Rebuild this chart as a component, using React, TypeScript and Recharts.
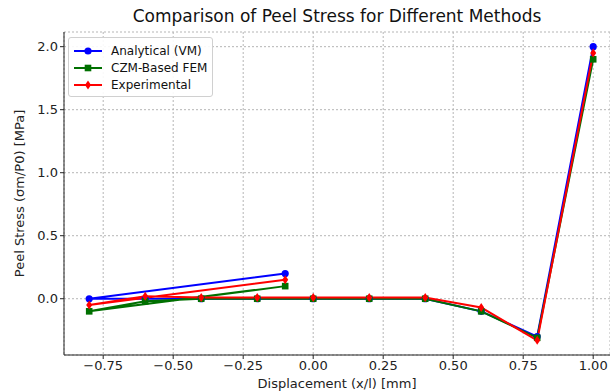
import { LineChart, Line, XAxis, YAxis, CartesianGrid } from 'recharts';

// point order follows the original series (the first point sits at -0.1)
const displacement = [-0.1, -0.8, -0.6, -0.4, -0.2, 0.0, 0.2, 0.4, 0.6, 0.8, 1.0];
const analytical = [0.2, 0.0, 0.0, 0.0, 0.0, 0.0, 0.0, 0.0, -0.1, -0.3, 2.0];
const czmFem = [0.1, -0.1, -0.02, 0.0, 0.0, 0.0, 0.0, 0.0, -0.1, -0.31, 1.9];
const experimental = [0.15, -0.05, 0.02, 0.01, 0.01, 0.01, 0.01, 0.01, -0.07, -0.33, 1.95];

const xTicks = [-0.75, -0.5, -0.25, 0, 0.25, 0.5, 0.75, 1.0];
const yTicks = [0, 0.5, 1.0, 1.5, 2.0];

const seriesNames = ['Analytical (VM)', 'CZM-Based FEM', 'Experimental'];

const COLORS = {
  analytical: '#0000ff',
  czm: '#007000',
  experimental: '#ff0000',
};

const FONT = '"DejaVu Sans", sans-serif';

const data = displacement.map((x, i) => ({
  x,
  analytical: analytical[i],
  czm: czmFem[i],
  experimental: experimental[i],
}));

const fmt = (v: number, digits: number) => v.toFixed(digits).replace('-', '\u2212');

function CircleDot(props: any) {
  const { cx, cy, index } = props;
  return <circle key={`c-${index}`} cx={cx} cy={cy} r={3.6} fill={COLORS.analytical} />;
}

function SquareDot(props: any) {
  const { cx, cy, index } = props;
  return <rect key={`s-${index}`} x={cx - 3.3} y={cy - 3.3} width={6.6} height={6.6} fill={COLORS.czm} />;
}

function DiamondDot(props: any) {
  const { cx, cy, index } = props;
  const pts = `${cx},${cy - 4.5} ${cx + 3},${cy} ${cx},${cy + 4.5} ${cx - 3},${cy}`;
  return <polygon key={`d-${index}`} points={pts} fill={COLORS.experimental} />;
}

function LegendIcon({ color, kind }: { color: string; kind: string }) {
  return (
    <svg width={28} height={10} style={{ marginRight: 9 }}>
      <line x1={0} y1={5} x2={28} y2={5} stroke={color} strokeWidth={2} />
      {kind === 'circle' && <circle cx={14} cy={5} r={3.6} fill={color} />}
      {kind === 'square' && <rect x={10.7} y={1.7} width={6.6} height={6.6} fill={color} />}
      {kind === 'diamond' && <polygon points="14,0.5 17,5 14,9.5 11,5" fill={color} />}
    </svg>
  );
}

export default function App() {
  const legendItems = [
    { name: seriesNames[0], color: COLORS.analytical, kind: 'circle' },
    { name: seriesNames[1], color: COLORS.czm, kind: 'square' },
    { name: seriesNames[2], color: COLORS.experimental, kind: 'diamond' },
  ];

  return (
    <div style={{ position: 'absolute', left: 0, top: 0, width: 610, height: 392, background: '#fff', fontFamily: FONT }}>
      <div
        style={{
          position: 'absolute',
          left: 64,
          width: 546,
          top: 6,
          textAlign: 'center',
          fontSize: 17,
          color: '#111',
        }}
      >
        Comparison of Peel Stress for Different Methods
      </div>
      <LineChart width={610} height={392} data={data} margin={{ top: 32, right: 0, left: 0, bottom: 0 }}>
        <CartesianGrid stroke="#b5b5b5" strokeDasharray="2 2" horizontal vertical />
        <XAxis
          dataKey="x"
          type="number"
          domain={[-0.89, 1.06]}
          ticks={xTicks}
          tickFormatter={(v: number) => fmt(v, 2)}
          height={37}
          tickSize={4}
          stroke="#222"
          tick={{ fill: '#222', fontSize: 13, fontFamily: FONT }}
          allowDataOverflow
          label={{ value: 'Displacement (x/l) [mm]', position: 'insideBottom', offset: 4, fill: '#222', fontSize: 13, fontFamily: FONT }}
        />
        <YAxis
          type="number"
          domain={[-0.4465, 2.1165]}
          ticks={yTicks}
          tickFormatter={(v: number) => fmt(v, 1)}
          width={64}
          tickSize={4}
          stroke="#222"
          tick={{ fill: '#222', fontSize: 13, fontFamily: FONT }}
          allowDataOverflow
          label={{
            value: 'Peel Stress (\u03c3m/P0) [MPa]',
            angle: -90,
            position: 'insideLeft',
            offset: 19,
            style: { textAnchor: 'middle' },
            fill: '#222',
            fontSize: 13,
            fontFamily: FONT,
          }}
        />
        <Line dataKey="analytical" stroke={COLORS.analytical} strokeWidth={2} dot={CircleDot} isAnimationActive={false} />
        <Line dataKey="czm" stroke={COLORS.czm} strokeWidth={2} dot={SquareDot} isAnimationActive={false} />
        <Line dataKey="experimental" stroke={COLORS.experimental} strokeWidth={2} dot={DiamondDot} isAnimationActive={false} />
      </LineChart>
      <div
        style={{
          position: 'absolute',
          left: 68,
          top: 37,
          width: 145,
          height: 60,
          border: '1px solid #d0d0d0',
          borderRadius: 3,
          background: 'rgba(255,255,255,0.9)',
          boxSizing: 'border-box',
          padding: '4px 0 0 5px',
          fontSize: 12,
          color: '#111',
        }}
      >
        {legendItems.map((it) => (
          <div key={it.name} style={{ display: 'flex', alignItems: 'center', height: 17 }}>
            <LegendIcon color={it.color} kind={it.kind} />
            <span>{it.name}</span>
          </div>
        ))}
      </div>
    </div>
  );
}
